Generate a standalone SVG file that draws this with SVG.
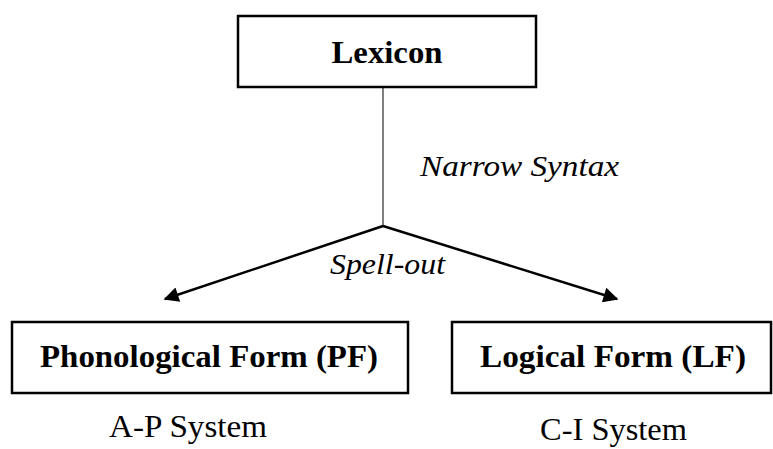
<svg xmlns="http://www.w3.org/2000/svg" width="773" height="449" viewBox="0 0 773 449">
  <style>
    .box { fill: #ffffff; stroke: #000000; stroke-width: 2.5; }
    .title { font-family: "Liberation Serif", "DejaVu Serif", serif; font-weight: bold; font-size: 32px; fill: #000; }
    .label { font-family: "Liberation Serif", "DejaVu Serif", serif; font-style: italic; font-size: 30px; fill: #000; }
    .sys { font-family: "Liberation Serif", "DejaVu Serif", serif; font-size: 31px; fill: #000; }
    .edge { stroke: #000; stroke-width: 2.5; fill: none; }
    .stem { stroke: #555; stroke-width: 1.5; fill: none; }
  </style>
  <defs>
    <marker id="arrow" viewBox="0 0 10 10" refX="9" refY="5" markerWidth="7.5" markerHeight="6" markerUnits="strokeWidth" orient="auto">
      <path d="M0,0 L10,5 L0,10 Z" fill="#000"/>
    </marker>
  </defs>

  <g id="connectors">
    <line class="stem" x1="383" y1="87" x2="383" y2="226"/>
    <line class="edge" x1="383" y1="226" x2="165" y2="299" marker-end="url(#arrow)"/>
    <line class="edge" x1="383" y1="226" x2="617" y2="299" marker-end="url(#arrow)"/>
    <text class="label" x="420" y="176" textLength="199" lengthAdjust="spacingAndGlyphs">Narrow Syntax</text>
    <text class="label" x="330" y="274" textLength="115" lengthAdjust="spacingAndGlyphs">Spell-out</text>
  </g>

  <g id="lexicon">
    <rect class="box" x="238" y="16" width="298" height="71"/>
    <text class="title" x="387" y="63" text-anchor="middle" textLength="111" lengthAdjust="spacingAndGlyphs">Lexicon</text>
  </g>

  <g id="pf">
    <rect class="box" x="12" y="322" width="396" height="71"/>
    <text class="title" x="209" y="367" text-anchor="middle" textLength="338" lengthAdjust="spacingAndGlyphs">Phonological Form (PF)</text>
    <text class="sys" x="109" y="437" textLength="158" lengthAdjust="spacingAndGlyphs">A-P System</text>
  </g>

  <g id="lf">
    <rect class="box" x="452" y="322" width="319" height="71"/>
    <text class="title" x="613" y="367" text-anchor="middle" textLength="266" lengthAdjust="spacingAndGlyphs">Logical Form (LF)</text>
    <text class="sys" x="540" y="440" textLength="147" lengthAdjust="spacingAndGlyphs">C-I System</text>
  </g>
</svg>
